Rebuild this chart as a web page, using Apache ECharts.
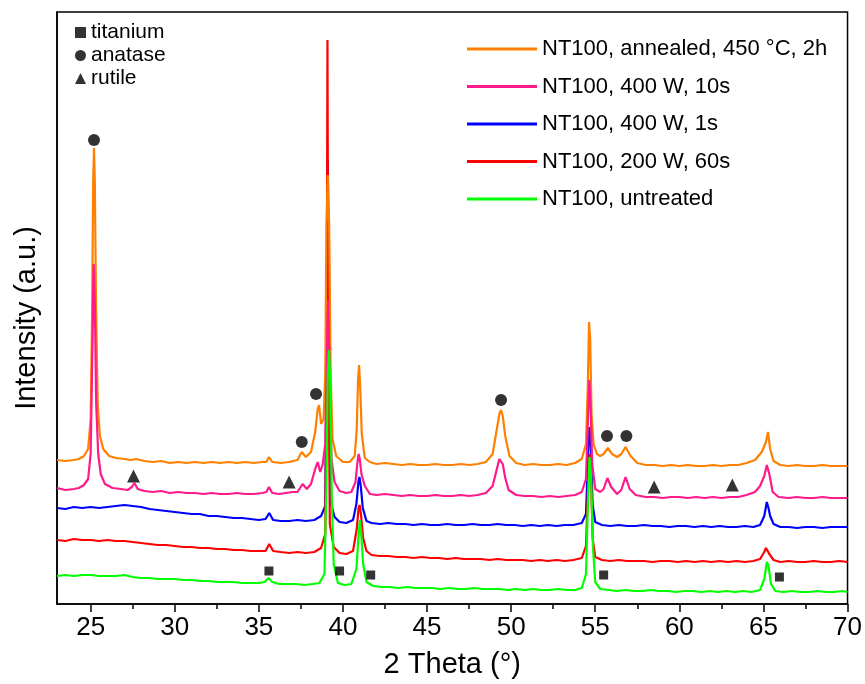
<!DOCTYPE html>
<html>
<head>
<meta charset="utf-8">
<script src="https://cdn.jsdelivr.net/npm/echarts@6/dist/echarts.min.js"></script>
<style>
html, body { margin: 0; padding: 0; background: #fff; }
#chart { width: 865px; height: 684px; }
</style>
</head>
<body>
<div id="chart"></div>
<script>
// series names (legend order)
var seriesNames = ['NT100, annealed, 450 °C, 2h', 'NT100, 400 W, 10s', 'NT100, 400 W, 1s', 'NT100, 200 W, 60s', 'NT100, untreated'];
var phaseNames = ['titanium', 'anatase', 'rutile'];

var xMajorTicks = [25, 30, 35, 40, 45, 50, 55, 60, 65, 70];
var xMinorTicks = [27.5, 32.5, 37.5, 42.5, 47.5, 52.5, 57.5, 62.5, 67.5];

// 2 theta / intensity (a.u., curves already offset as in the figure)
var annealed = [[23.0,144],[23.5,143],[24.0,144],[24.3,145],[24.6,148],[24.85,155],[25.0,185],[25.08,280],[25.15,420],[25.2,456],[25.25,420],[25.32,300],[25.42,200],[25.55,168],[25.75,155],[26.1,148],[26.5,146],[27.0,145],[27.4,144],[27.7,145],[28.2,143],[28.7,142],[29.2,143],[29.7,141],[30.2,142],[30.7,141],[31.2,142],[31.7,141],[32.2,142],[32.7,141],[33.2,142],[33.7,141],[34.2,142],[34.7,141],[35.2,142],[35.45,142],[35.6,147],[35.8,142],[36.3,141],[36.8,142],[37.3,144],[37.55,152],[37.8,147],[38.1,152],[38.35,172],[38.5,195],[38.58,199],[38.7,180],[38.85,185],[38.95,230],[39.02,380],[39.1,429],[39.18,380],[39.27,230],[39.38,165],[39.6,148],[40.0,142],[40.4,142],[40.7,148],[40.82,175],[40.9,225],[40.96,239],[41.03,215],[41.12,170],[41.3,146],[41.6,142],[42.0,140],[42.5,141],[43.0,140],[43.5,139],[44.0,140],[44.5,139],[45.0,139],[45.5,140],[46.0,139],[46.5,139],[47.0,140],[47.5,139],[48.0,140],[48.5,142],[48.9,150],[49.15,175],[49.3,190],[49.4,194],[49.5,188],[49.65,168],[49.9,148],[50.3,141],[50.8,139],[51.3,140],[51.8,139],[52.3,139],[52.8,140],[53.3,139],[53.8,141],[54.2,145],[54.45,160],[54.56,220],[54.63,282],[54.7,265],[54.78,190],[54.9,160],[55.1,150],[55.3,148],[55.5,150],[55.75,156],[56.0,150],[56.3,147],[56.55,150],[56.8,157],[57.1,148],[57.5,141],[58.0,139],[58.5,139],[59.0,138],[59.5,139],[60.0,138],[60.5,139],[61.0,138],[61.5,138],[62.0,139],[62.5,138],[63.0,139],[63.5,139],[64.0,141],[64.5,144],[64.9,152],[65.15,162],[65.27,172],[65.4,155],[65.6,143],[66.0,139],[66.5,138],[67.0,139],[67.5,138],[68.0,138],[68.5,139],[69.0,138],[69.5,138],[70.0,138]];

var w400s10 = [[23.0,116],[23.5,114],[24.0,115],[24.3,116],[24.6,119],[24.85,125],[25.0,150],[25.1,250],[25.18,340],[25.25,300],[25.33,200],[25.45,150],[25.6,130],[25.85,120],[26.3,116],[26.8,115],[27.2,114],[27.45,117],[27.6,121],[27.8,115],[28.2,113],[28.7,112],[29.2,113],[29.7,111],[30.2,112],[30.7,111],[31.2,111],[31.7,110],[32.2,111],[32.7,110],[33.2,110],[33.7,111],[34.2,110],[34.7,110],[35.2,111],[35.45,112],[35.6,117],[35.8,111],[36.2,110],[36.6,111],[37.0,112],[37.3,112],[37.6,120],[37.85,115],[38.1,120],[38.35,135],[38.5,142],[38.65,132],[38.8,140],[38.95,160],[39.05,250],[39.12,304],[39.2,240],[39.32,145],[39.5,122],[39.8,113],[40.2,111],[40.5,112],[40.75,122],[40.85,140],[40.93,150],[41.0,145],[41.1,130],[41.3,118],[41.6,110],[42.0,109],[42.5,110],[43.0,109],[43.5,108],[44.0,109],[44.5,108],[45.0,108],[45.5,109],[46.0,108],[46.5,108],[47.0,109],[47.5,108],[48.0,109],[48.5,111],[48.9,118],[49.15,135],[49.3,145],[49.4,147],[49.5,140],[49.65,126],[49.85,114],[50.3,109],[50.8,108],[51.3,108],[51.8,107],[52.3,108],[52.8,107],[53.3,108],[53.8,109],[54.2,112],[54.45,125],[54.56,180],[54.64,224],[54.72,200],[54.82,140],[55.0,115],[55.3,112],[55.5,115],[55.72,126],[55.95,117],[56.3,110],[56.55,114],[56.8,127],[57.05,115],[57.4,109],[58.0,107],[58.5,107],[59.0,106],[59.5,107],[60.0,107],[60.5,106],[61.0,107],[61.5,106],[62.0,107],[62.5,106],[63.0,107],[63.5,107],[64.0,109],[64.5,112],[64.8,118],[65.05,128],[65.2,139],[65.35,130],[65.55,112],[65.9,107],[66.5,106],[67.0,107],[67.5,106],[68.0,106],[68.5,107],[69.0,106],[69.5,106],[70.0,106]];

var w400s1 = [[23.0,96],[23.5,95],[24.0,97],[24.5,96],[25.0,97],[25.5,96],[26.0,97],[26.5,98],[27.0,99],[27.5,98],[28.0,97],[28.5,95],[29.0,94],[29.5,93],[30.0,92],[30.5,91],[31.0,90],[31.5,90],[32.0,88],[32.5,88],[33.0,87],[33.5,86],[34.0,86],[34.5,85],[35.0,84],[35.4,85],[35.62,91],[35.85,84],[36.3,83],[36.8,83],[37.3,84],[37.8,83],[38.3,84],[38.7,88],[38.95,98],[39.05,300],[39.1,444],[39.16,300],[39.3,100],[39.5,87],[39.8,82],[40.2,81],[40.6,84],[40.8,100],[40.92,122],[40.98,127],[41.06,118],[41.18,96],[41.4,83],[41.7,81],[42.2,80],[42.7,81],[43.2,80],[43.7,80],[44.2,79],[44.7,80],[45.2,79],[45.7,79],[46.2,80],[46.7,79],[47.2,79],[47.7,80],[48.2,79],[48.7,79],[49.2,80],[49.7,79],[50.2,79],[50.7,78],[51.2,79],[51.7,78],[52.2,79],[52.7,78],[53.2,79],[53.7,79],[54.2,81],[54.45,90],[54.58,150],[54.66,177],[54.74,160],[54.84,100],[55.0,82],[55.4,79],[55.9,78],[56.4,79],[56.9,78],[57.4,78],[57.9,79],[58.4,78],[58.9,78],[59.4,77],[59.9,78],[60.4,78],[60.9,77],[61.4,78],[61.9,77],[62.4,78],[62.9,77],[63.4,77],[63.9,78],[64.4,77],[64.8,79],[65.05,88],[65.2,102],[65.3,96],[65.4,88],[65.6,80],[66.0,77],[66.5,77],[67.0,76],[67.5,77],[68.0,77],[68.5,76],[69.0,77],[69.5,77],[70.0,77]];

var w200s60 = [[23.0,64],[23.5,63],[24.0,65],[24.5,64],[25.0,64],[25.5,63],[26.0,64],[26.5,63],[27.0,63],[27.5,62],[28.0,61],[28.5,60],[29.0,59],[29.5,59],[30.0,58],[30.5,57],[31.0,57],[31.5,56],[32.0,56],[32.5,55],[33.0,55],[33.5,54],[34.0,54],[34.5,53],[35.0,53],[35.4,53],[35.62,60],[35.85,53],[36.3,52],[36.8,51],[37.3,52],[37.8,51],[38.3,52],[38.7,56],[38.95,70],[39.04,300],[39.08,564],[39.12,300],[39.22,80],[39.45,57],[39.8,51],[40.2,50],[40.6,53],[40.82,75],[40.93,96],[40.99,99],[41.07,90],[41.2,66],[41.4,53],[41.7,49],[42.2,48],[42.7,48],[43.2,47],[43.7,47],[44.2,46],[44.7,47],[45.2,46],[45.7,46],[46.2,45],[46.7,46],[47.2,45],[47.7,45],[48.2,45],[48.7,44],[49.2,45],[49.7,44],[50.2,44],[50.7,44],[51.2,43],[51.7,44],[52.2,43],[52.7,44],[53.2,43],[53.7,44],[54.2,46],[54.45,58],[54.58,120],[54.66,150],[54.74,130],[54.85,65],[55.0,47],[55.4,44],[55.9,43],[56.4,44],[56.9,43],[57.4,43],[57.9,43],[58.4,42],[58.9,43],[59.4,43],[59.9,42],[60.4,43],[60.9,42],[61.4,43],[61.9,42],[62.4,43],[62.9,42],[63.4,43],[63.9,42],[64.4,43],[64.8,45],[65.05,52],[65.15,56],[65.35,50],[65.6,44],[66.0,42],[66.5,43],[67.0,42],[67.5,42],[68.0,43],[68.5,42],[69.0,42],[69.5,43],[70.0,42]];

var untreated = [[23.0,28],[23.5,29],[24.0,28],[24.5,29],[25.0,29],[25.5,28],[26.0,28],[26.5,28],[27.0,29],[27.5,27],[28.0,26],[28.5,26],[29.0,25],[29.5,25],[30.0,25],[30.5,24],[31.0,24],[31.5,23],[32.0,23],[32.5,22],[33.0,22],[33.5,22],[34.0,21],[34.5,21],[35.0,21],[35.35,22],[35.58,26],[35.8,22],[36.2,20],[36.7,20],[37.2,20],[37.7,19],[38.2,20],[38.6,21],[38.9,30],[39.02,120],[39.1,230],[39.17,254],[39.25,220],[39.33,110],[39.45,40],[39.7,21],[40.1,19],[40.5,20],[40.8,35],[40.93,70],[41.01,84],[41.09,70],[41.2,40],[41.4,22],[41.8,18],[42.3,17],[42.8,17],[43.3,16],[43.8,17],[44.3,16],[44.8,16],[45.3,16],[45.8,15],[46.3,16],[46.8,15],[47.3,15],[47.8,16],[48.3,15],[48.8,15],[49.3,15],[49.8,14],[50.3,15],[50.8,14],[51.3,15],[51.8,14],[52.3,14],[52.8,15],[53.3,14],[53.8,14],[54.2,16],[54.45,30],[54.58,110],[54.66,147],[54.75,130],[54.87,55],[55.0,22],[55.3,15],[55.8,14],[56.3,13],[56.8,14],[57.3,13],[57.8,13],[58.3,14],[58.8,13],[59.3,13],[59.8,12],[60.3,13],[60.8,13],[61.3,12],[61.8,13],[62.3,12],[62.8,13],[63.3,12],[63.8,13],[64.3,12],[64.8,14],[65.05,25],[65.2,42],[65.3,38],[65.45,20],[65.7,13],[66.2,12],[66.7,13],[67.2,12],[67.7,12],[68.2,13],[68.7,12],[69.2,12],[69.7,13],[70.0,12]];

// phase markers placed above the reflections
var titaniumPeaks = [[35.6,33],[39.8,33],[41.65,29],[55.5,29],[65.95,27]];
var anatasePeaks = [[25.2,464],[37.55,162],[38.4,210],[49.4,204],[55.7,168],[56.85,168]];
var rutilePeaks = [[27.55,128],[36.8,122],[58.5,117],[63.15,119]];

var lineColors = ['#ff8000', '#ff1a8c', '#0000ff', '#ff0000', '#00ff00'];
var lineData = [annealed, w400s10, w400s1, w200s60, untreated];
// stacking: red and blue underneath, untreated on top
var lineZ = [3, 3, 2, 2, 4];

var chart = echarts.init(document.getElementById('chart'));

var font = '"Liberation Sans", Arial, sans-serif';

var series = [];
for (var i = 0; i < seriesNames.length; i++) {
	series.push({
		name: seriesNames[i],
		type: 'line',
		data: lineData[i],
		symbol: 'none',
		z: lineZ[i],
		lineStyle: { width: 2.2, color: lineColors[i] },
		itemStyle: { color: lineColors[i] },
		silent: true
	});
}
series.push({ name: phaseNames[0], type: 'scatter', data: titaniumPeaks, symbol: 'rect', symbolSize: 9, itemStyle: { color: '#000' }, z: 5 });
series.push({ name: phaseNames[1], type: 'scatter', data: anatasePeaks, symbol: 'circle', symbolSize: 12, itemStyle: { color: '#000' }, z: 5 });
series.push({ name: phaseNames[2], type: 'scatter', data: rutilePeaks, symbol: 'triangle', symbolSize: 13, itemStyle: { color: '#000' }, z: 5 });

var option = {
	animation: false,
	backgroundColor: '#fff',
	grid: { left: 57, right: 14, top: 12, bottom: 80, show: true, borderColor: '#000', borderWidth: 1.5 },
	legend: [
		{
			data: seriesNames,
			orient: 'vertical',
			left: 462, top: 33,
			icon: 'rect',
			itemWidth: 70, itemHeight: 3, itemGap: 15.5,
			textStyle: { fontSize: 22, fontFamily: font, color: '#000' }
		},
		{
			data: [
				{ name: 'titanium', icon: 'rect' },
				{ name: 'anatase', icon: 'circle' },
				{ name: 'rutile', icon: 'triangle' }
			],
			orient: 'vertical',
			left: 70, top: 17,
			itemWidth: 11, itemHeight: 11, itemGap: 2,
			textStyle: { fontSize: 21, fontFamily: font, color: '#000' }
		}
	],
	xAxis: [
		{
			type: 'value', min: 23, max: 70,
			name: '2 Theta (°)', nameLocation: 'middle', nameGap: 46,
			nameTextStyle: { fontSize: 29, fontFamily: font, color: '#000' },
			axisLine: { lineStyle: { color: '#000', width: 1.5 } },
			axisTick: { customValues: xMajorTicks, length: 8, lineStyle: { color: '#000', width: 1.5 } },
			axisLabel: { customValues: xMajorTicks, margin: 11, fontSize: 26, fontFamily: font, color: '#000' },
			splitLine: { show: false }
		},
		{
			type: 'value', min: 23, max: 70, position: 'bottom',
			axisLine: { show: false },
			axisTick: { customValues: xMinorTicks, length: 5, lineStyle: { color: '#000', width: 1.5 } },
			axisLabel: { show: false },
			splitLine: { show: false }
		}
	],
	yAxis: {
		type: 'value', min: 0, max: 592,
		axisLine: { show: true, lineStyle: { color: '#000', width: 1.5 } },
		axisTick: { show: false },
		axisLabel: { show: false },
		splitLine: { show: false }
	},
	graphic: [{
		type: 'text',
		x: 27, y: 318,
		rotation: Math.PI / 2,
		style: {
			text: 'Intensity (a.u.)',
			fontSize: 29, fontFamily: font, fill: '#000',
			textAlign: 'center', textVerticalAlign: 'middle'
		}
	}],
	series: series
};

chart.setOption(option);
</script>
</body>
</html>
